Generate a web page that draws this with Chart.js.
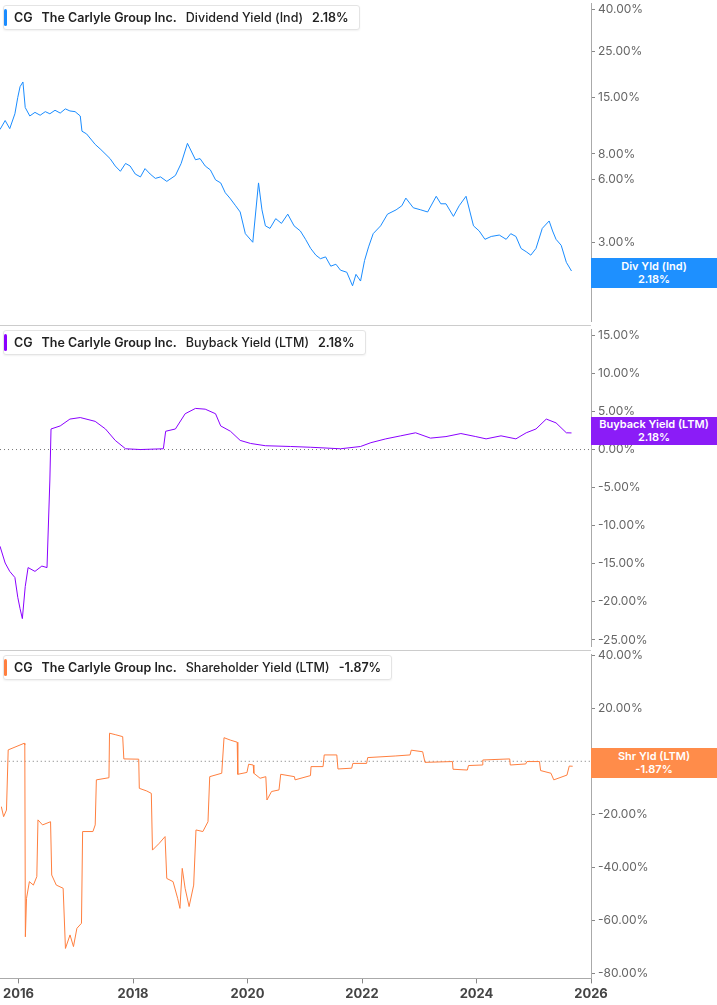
<!DOCTYPE html>
<html><head><meta charset="utf-8">
<script src="https://cdn.jsdelivr.net/npm/chart.js@4"></script>
<style>
body{margin:0;background:#fff;font-family:Inter,"Noto Sans",sans-serif;overflow:hidden}
.p{position:absolute;left:0;width:717px;}
.leg{position:absolute;left:3px;top:4px;background:#fff;border:1px solid #e4e4e4;border-radius:3px;padding:4px 10px 4px 10px;font-size:12.5px;font-weight:600;color:#222;white-space:nowrap;box-shadow:0 1px 2px rgba(0,0,0,.06);z-index:2}
.leg span{margin-right:9px}
.leg:before{content:"";position:absolute;left:0;top:3px;bottom:3px;width:3px;border-radius:2px;background:var(--c)}
.tag{position:absolute;left:591px;width:126px;color:#fff;font-size:11px;font-weight:600;text-align:center;line-height:13px;padding:1px 0;z-index:2}
.sep{position:absolute;left:0;width:591px;height:1px;background:#ccc;z-index:2}
</style></head><body>
<div class="p" style="top:-7px;height:339px"><canvas id="c1"></canvas></div>
<div class="p" style="top:319px;height:338px"><canvas id="c2"></canvas></div>
<div class="p" style="top:644px;height:361px"><canvas id="c3"></canvas></div>
<div class="sep" style="top:325px"></div>
<div class="sep" style="top:650px"></div>
<div class="leg" style="--c:#1a8cff;top:5px"><span>CG</span><span>The Carlyle Group Inc.</span><span style="font-weight:500">Dividend Yield (Ind)</span>2.18%</div>
<div class="leg" style="--c:#8a00ff;top:330px"><span>CG</span><span>The Carlyle Group Inc.</span><span style="font-weight:500">Buyback Yield (LTM)</span>2.18%</div>
<div class="leg" style="--c:#ff7f3f;top:655px"><span>CG</span><span>The Carlyle Group Inc.</span><span style="font-weight:500">Shareholder Yield (LTM)</span>-1.87%</div>
<div class="tag" style="top:258px;background:#1e90ff;padding:2px 0">Div Yld (Ind)<br>2.18%</div>
<div class="tag" style="top:417px;background:#8b1cf7">Buyback Yield (LTM)<br>2.18%</div>
<div class="tag" style="top:748px;background:#ff8c4a;padding:2px 0">Shr Yld (LTM)<br>-1.87%</div>
<script>
// ---------------- DATA ----------------
const divYears = [2015.69,2015.78,2015.86,2015.95,2016.0,2016.04,2016.09,2016.13,2016.21,2016.3,2016.39,2016.48,2016.56,2016.65,2016.74,2016.83,2016.91,2017.0,2017.09,2017.12,2017.2,2017.35,2017.45,2017.61,2017.7,2017.79,2017.88,2017.96,2018.05,2018.14,2018.22,2018.31,2018.4,2018.49,2018.6,2018.75,2018.85,2018.96,2019.1,2019.18,2019.27,2019.36,2019.45,2019.54,2019.62,2019.7,2019.8,2019.88,2019.97,2020.1,2020.2,2020.26,2020.32,2020.4,2020.5,2020.6,2020.71,2020.82,2020.93,2021.02,2021.11,2021.2,2021.28,2021.37,2021.46,2021.55,2021.63,2021.74,2021.84,2021.9,2021.98,2022.05,2022.12,2022.2,2022.33,2022.45,2022.6,2022.7,2022.77,2022.9,2023.03,2023.15,2023.3,2023.38,2023.47,2023.6,2023.7,2023.82,2023.95,2024.05,2024.15,2024.26,2024.4,2024.52,2024.6,2024.69,2024.78,2024.87,2024.95,2025.04,2025.15,2025.27,2025.33,2025.39,2025.48,2025.57,2025.66];
const divValues = [10.5,11.6,10.6,12.5,15.0,16.9,17.8,13.4,12.2,12.7,12.3,12.8,12.5,13.0,12.6,13.2,12.9,12.8,12.2,10.3,10.0,8.9,8.4,7.6,7.0,6.6,7.2,7.0,6.4,6.2,6.8,6.4,6.1,6.2,5.9,6.3,7.2,9.0,7.5,7.6,7.0,6.7,6.0,5.8,5.2,4.9,4.5,4.2,3.3,3.0,5.8,4.3,3.6,3.5,3.9,3.7,4.1,3.6,3.4,3.1,2.8,2.6,2.5,2.55,2.3,2.35,2.2,2.15,1.85,2.1,1.95,2.45,2.85,3.3,3.6,4.1,4.3,4.5,4.9,4.4,4.3,4.2,5.0,4.6,4.6,4.0,4.5,5.0,3.6,3.4,3.1,3.2,3.25,3.1,3.3,3.2,2.8,2.7,2.6,2.8,3.5,3.8,3.4,3.1,2.9,2.4,2.18];

const bbYears = [2015.69,2015.78,2015.86,2015.95,2016.0,2016.04,2016.08,2016.13,2016.18,2016.3,2016.42,2016.51,2016.56,2016.58,2016.74,2016.91,2017.09,2017.35,2017.53,2017.7,2017.88,2018.14,2018.54,2018.58,2018.75,2018.92,2019.1,2019.27,2019.45,2019.54,2019.71,2019.88,2020.06,2020.32,2020.76,2021.11,2021.63,2021.98,2022.16,2022.42,2022.68,2022.94,2023.2,2023.47,2023.73,2023.99,2024.17,2024.43,2024.69,2024.87,2025.04,2025.22,2025.39,2025.57,2025.66];
const bbValues = [-12.7,-14.9,-16.0,-16.8,-19.4,-20.9,-22.2,-18.0,-15.5,-16.0,-15.3,-15.5,-4.0,2.7,3.1,4.0,4.2,3.7,2.7,1.2,0.1,0.0,0.1,2.4,2.7,4.7,5.4,5.3,4.7,3.1,2.4,1.2,0.8,0.5,0.4,0.3,0.1,0.4,0.9,1.4,1.8,2.2,1.5,1.7,2.1,1.7,1.4,1.8,1.4,2.2,2.7,4.0,3.5,2.2,2.18];

const shrYears = [2015.70,2015.74,2015.79,2015.82,2016.10,2016.11,2016.12,2016.14,2016.19,2016.26,2016.32,2016.34,2016.42,2016.56,2016.58,2016.66,2016.78,2016.82,2016.90,2016.96,2017.02,2017.10,2017.12,2017.30,2017.34,2017.36,2017.58,2017.59,2017.70,2017.82,2017.84,2018.10,2018.11,2018.24,2018.32,2018.34,2018.46,2018.56,2018.59,2018.70,2018.78,2018.82,2018.86,2018.91,2018.98,2019.06,2019.10,2019.22,2019.31,2019.34,2019.55,2019.59,2019.70,2019.82,2019.83,2019.99,2020.02,2020.10,2020.11,2020.22,2020.32,2020.34,2020.42,2020.55,2020.58,2020.82,2020.83,2021.10,2021.11,2021.32,2021.34,2021.56,2021.58,2021.82,2021.84,2022.08,2022.10,2022.58,2022.84,2022.86,2023.06,2023.10,2023.58,2023.59,2023.84,2023.86,2024.10,2024.11,2024.58,2024.59,2024.86,2024.88,2025.10,2025.12,2025.30,2025.35,2025.58,2025.62,2025.68];
const shrValues = [-17.1,-20.9,-18.4,4.3,6.8,6.2,-66.2,-51.7,-45.4,-46.7,-43.5,-22.1,-24.0,-22.8,-42.9,-46.7,-47.9,-70.6,-65.5,-69.9,-63.0,-61.1,-26.5,-26.5,-24.0,-7.0,-6.2,10.6,10.0,9.3,0.9,0.8,-10.2,-11.2,-12.1,-33.5,-30.9,-28.4,-44.2,-45.4,-51.7,-55.5,-40.4,-47.9,-54.8,-46.7,-25.9,-26.5,-22.8,-5.8,-4.5,8.9,8.0,7.2,-4.9,-4.2,-1.1,-1.4,-4.5,-6.4,-5.8,-14.6,-11.4,-10.8,-4.9,-5.8,-7.0,-5.4,-2.0,-2.0,2.4,2.4,-2.9,-2.6,-0.8,-0.8,1.4,2.0,2.4,4.2,3.6,-0.4,-0.1,-3.0,-3.3,-1.6,-1.4,0.5,0.9,-1.4,-1.0,-0.1,-0.1,-3.5,-4.5,-7.0,-5.2,-1.8,-1.87];

const divTicks = [2, 3, 6, 8, 15, 25, 40];
const bbTicks = [-25, -20, -15, -10, -5, 0, 5, 10, 15];
const shrTicks = [-80, -60, -40, -20, 0, 20, 40];
const yearTicks = [2016, 2018, 2020, 2022, 2024, 2026];

// ---------------- HELPERS ----------------
const X_MIN = 2015.69, X_MAX = 2026.0;
const pts = (xs, ys) => xs.map((x, i) => ({x: x, y: ys[i]}));

function yAxis(type, min, max, ticks) {
    return {
        type: type, position: "right", min: min, max: max,
        afterFit: s => { s.width = 126; },
        afterBuildTicks: s => { s.ticks = ticks.map(v => ({value: v})); },
        border: {display: true, color: "#aaa"},
        grid: {display: true, drawOnChartArea: false, tickLength: 4, color: "#888"},
        ticks: {color: "#666", font: {size: 12, family: "Inter"}, padding: 3, autoSkip: false,
            callback: v => v.toFixed(2) + "%"}
    };
}

function makeChart(id, data, color, yScale, showX, zero) {
    const sets = [{data: data, borderColor: color, borderWidth: 1, pointRadius: 0, tension: 0}];
    if (zero) sets.push({data: [{x: X_MIN, y: 0}, {x: X_MAX, y: 0}], borderColor: "#777",
        borderWidth: 1, borderDash: [1, 3], pointRadius: 0});
    new Chart(document.getElementById(id), {
        type: "line",
        data: {datasets: sets},
        options: {
            responsive: true, maintainAspectRatio: false, animation: false,
            layout: {padding: 0},
            plugins: {legend: {display: false}, tooltip: {enabled: false}},
            scales: {
                x: {
                    type: "linear", min: X_MIN, max: X_MAX, display: showX,
                    afterBuildTicks: s => { s.ticks = yearTicks.map(v => ({value: v})); },
                    border: {color: "#aaa"},
                    grid: {drawOnChartArea: false, tickLength: 5, color: "#888"},
                    ticks: {color: "#444", font: {size: 13, weight: "bold", family: "Inter"},
                        callback: v => String(v), maxRotation: 0}
                },
                y: yScale
            }
        }
    });
}

makeChart("c1", pts(divYears, divValues), "#1a8cff", yAxis("logarithmic", 1.24, 42.7, divTicks), false, false);
makeChart("c2", pts(bbYears, bbValues), "#8a00ff", yAxis("linear", -25.9, 15.8, bbTicks), false, true);
makeChart("c3", pts(shrYears, shrValues), "#ff7f3f", yAxis("linear", -81.9, 40.4, shrTicks), true, true);
</script>
</body></html>
